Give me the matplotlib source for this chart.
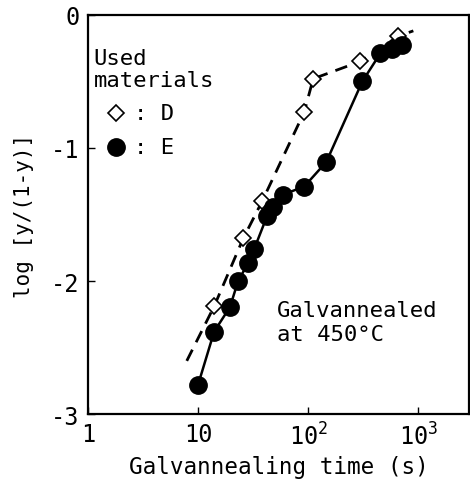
import numpy as np
import matplotlib
matplotlib.use("Agg")
import matplotlib.pyplot as plt
from matplotlib.ticker import FixedLocator, FixedFormatter, NullLocator

plt.rcParams["font.family"] = "DejaVu Sans Mono"
plt.rcParams["mathtext.default"] = "regular"

# material E (filled circles, solid line)
e_time = [10.0, 14.0, 19.5, 23.1, 28.5, 32.3, 42.4, 48.1, 59.3, 92, 146, 310, 451, 580, 716]
e_logy = [-2.78, -2.38, -2.195, -2.00, -1.865, -1.76, -1.51, -1.44, -1.35, -1.29, -1.105, -0.50, -0.29, -0.26, -0.23]

# material D (open diamonds) and its dashed guide line
d_time = [14.0, 25.7, 38.2, 92, 111, 297, 658]
d_logy = [-2.19, -1.68, -1.40, -0.73, -0.48, -0.35, -0.16]
d_line_time = [7.9, 14.0, 25.7, 38.2, 92, 111, 297, 658, 900]
d_line_logy = [-2.60, -2.19, -1.68, -1.40, -0.73, -0.48, -0.35, -0.16, -0.12]

xticks = [1, 10, 100, 1000]
xticklabels = ["1", "10", "10$^2$", "10$^3$"]
yticks = [0, -1, -2, -3]

fig = plt.figure(figsize=(4.70, 4.81), dpi=100)
ax = fig.add_axes([0.187, 0.137, 0.811, 0.830])

ax.plot(d_line_time, d_line_logy, color="black", lw=2, ls=(0, (4.5, 3)), zorder=2)
ax.plot(d_time, d_logy, ls="none", marker="D", ms=8.5, mfc="white", mec="black", mew=1.2, zorder=3)
ax.plot(e_time, e_logy, color="black", lw=1.8, marker="o", ms=12.5, mfc="black", mec="black", zorder=4)

ax.set_xscale("log")
ax.set_xlim(1, 10 ** 3.46)
ax.set_ylim(-3, 0)
ax.xaxis.set_major_locator(FixedLocator(xticks))
ax.xaxis.set_major_formatter(FixedFormatter(xticklabels))
ax.xaxis.set_minor_locator(NullLocator())
ax.set_yticks(yticks)
ax.set_yticklabels([str(v) if v >= 0 else "-" + str(-v) for v in yticks])
ax.tick_params(direction="in", length=5, width=1, labelsize=17, pad=6)
for s in ax.spines.values():
    s.set_linewidth(1.6)

ax.set_xlabel("Galvannealing time (s)", fontsize=16.3, labelpad=4)
ax.set_ylabel("log [y/(1-y)]", fontsize=15, labelpad=12)

ax.text(0.015, 0.865, "Used\nmaterials", transform=ax.transAxes, fontsize=16,
        ha="left", va="center", linespacing=1.1)
ax.plot([0.075], [0.755], transform=ax.transAxes, ls="none", marker="D", ms=8.5,
        mfc="white", mec="black", mew=1.2, clip_on=False)
ax.text(0.12, 0.755, ": D", transform=ax.transAxes, fontsize=16, ha="left", va="center")
ax.plot([0.075], [0.67], transform=ax.transAxes, ls="none", marker="o", ms=12.5,
        mfc="black", mec="black", clip_on=False)
ax.text(0.12, 0.67, ": E", transform=ax.transAxes, fontsize=16, ha="left", va="center")

ax.text(0.496, 0.23, "Galvannealed\nat 450°C", transform=ax.transAxes, fontsize=16,
        ha="left", va="center", linespacing=1.25)

fig.savefig("out.png", dpi=100)
